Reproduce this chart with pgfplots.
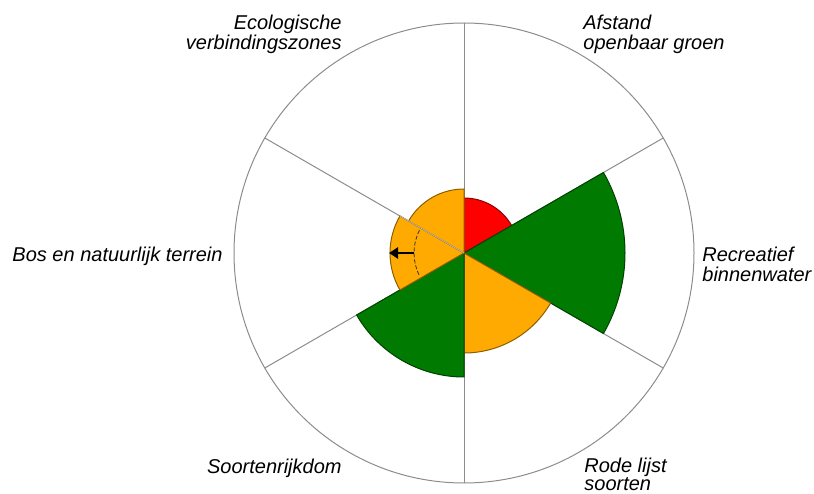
\documentclass[border=0pt]{standalone}
\usepackage{fontspec}
\setmainfont{Liberation Sans}
\usepackage{pgfplots}
\pgfplotsset{compat=1.18}
\usepackage{pgfplotstable}
\usetikzlibrary{arrows.meta}

\definecolor{c1}{HTML}{FF0000}   % red
\definecolor{c2}{HTML}{007A00}   % green
\definecolor{c3}{HTML}{FFAA00}   % orange
\definecolor{spoke}{HTML}{8C8C8C}

\newcommand\lab{\fontsize{10}{10}\selectfont\itshape}

% one wedge per indicator: start/end angle (deg), radius (px), colour index
\pgfplotstableread{
a1 a2 r c
30 90 55 1
-30 30 161 2
-90 -30 100 3
-150 -90 124 2
150 210 74 3
90 150 64 3
}\sectors

\begin{document}
\begin{tikzpicture}
\begin{axis}[
    x=0.5pt, y=0.5pt,
    xmin=-464, xmax=350,
    ymin=-240, ymax=253,
    hide axis,
    clip=false,
]
    \coordinate (SW) at (axis cs:-464,-240);
    \coordinate (NE) at (axis cs:350,253);

    % frame: outer circle and spokes
    \draw[spoke, line width=0.5pt] (axis cs:0,0) circle[radius=115pt];
    \pgfplotsinvokeforeach{30,90,150,210,270,330}{
        \draw[spoke, line width=0.5pt] (axis cs:0,0) -- ++(#1:115pt);
    }

    % wedges (1 px = 0.5pt)
    \pgfplotsinvokeforeach{0,1,2,3,4,5}{
        \pgfplotstablegetelem{#1}{a1}\of\sectors \let\sa\pgfplotsretval
        \pgfplotstablegetelem{#1}{a2}\of\sectors \let\sb\pgfplotsretval
        \pgfplotstablegetelem{#1}{r}\of\sectors  \let\sr\pgfplotsretval
        \pgfplotstablegetelem{#1}{c}\of\sectors  \let\sc\pgfplotsretval
        \edef\temp{\noexpand\filldraw[fill=c\sc, draw=c\sc!55!black,
            line width=0.5pt, line join=round]
            (axis cs:0,0) -- ++(\sa:\sr*0.5pt)
            arc[start angle=\sa, end angle=\sb, radius=\sr*0.5pt] -- cycle;}
        \temp
    }
    % faint spoke showing through the orange wedges
    \draw[spoke!60, line width=0.4pt] (axis cs:0,0) -- ++(150:37pt);

    % trend marker in "Bos en natuurlijk terrein"
    \draw[black!80, line width=0.4pt, dash pattern=on 2pt off 1pt]
        (axis cs:0,0) ++(153:25pt) arc[start angle=153, end angle=207, radius=25pt];
    \draw[-{Triangle[length=4.5pt, width=5.5pt]}, line width=1.4pt]
        (axis cs:0,0) ++(180:25pt) -- ++(180:12.5pt);

    % labels
    \node[anchor=base east, inner sep=0, font=\lab] at (axis cs:-122,223) {Ecologische};
    \node[anchor=base east, inner sep=0, font=\lab] at (axis cs:-122,203) {verbindingszones};
    \node[anchor=base west, inner sep=0, font=\lab] at (axis cs:119,223) {Afstand};
    \node[anchor=base west, inner sep=0, font=\lab] at (axis cs:119,203) {openbaar groen};
    \node[anchor=base west, inner sep=0, font=\lab] at (axis cs:238,-9) {Recreatief};
    \node[anchor=base west, inner sep=0, font=\lab] at (axis cs:238,-29) {binnenwater};
    \node[anchor=base west, inner sep=0, font=\lab] at (axis cs:120,-219) {Rode lijst};
    \node[anchor=base west, inner sep=0, font=\lab] at (axis cs:120,-237) {soorten};
    \node[anchor=base east, inner sep=0, font=\lab] at (axis cs:-122,-220) {Soortenrijkdom};
    \node[anchor=base east, inner sep=0, font=\lab] at (axis cs:-241,-9) {Bos en natuurlijk terrein};
\end{axis}
\pgfresetboundingbox
\path (SW) rectangle (NE);
\end{tikzpicture}
\end{document}
